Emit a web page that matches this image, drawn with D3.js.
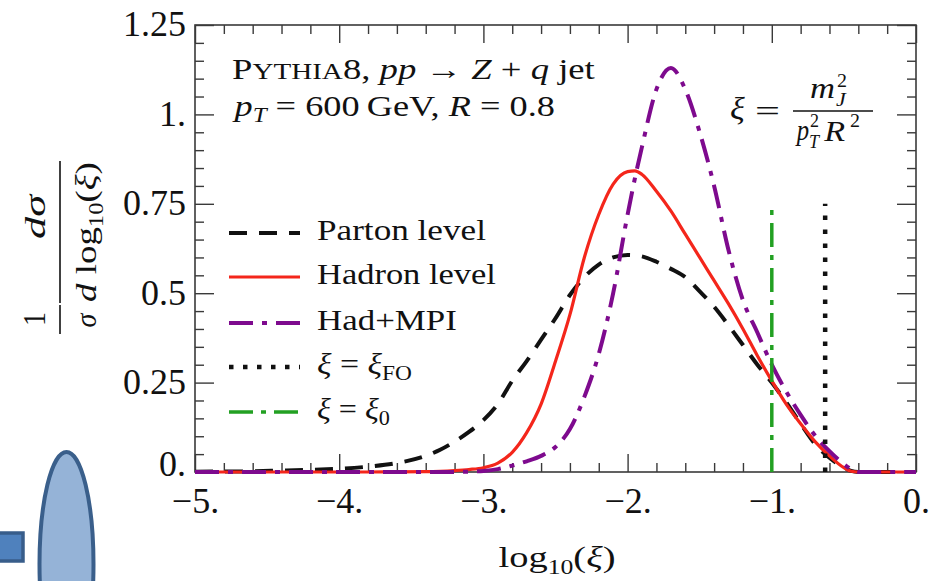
<!DOCTYPE html>
<html><head><meta charset="utf-8">
<script src="https://cdn.jsdelivr.net/npm/d3@7"></script>
<style>
html,body{margin:0;padding:0;background:#fff;}
svg{display:block;}
text{font-family:"Liberation Serif","Times New Roman",serif;fill:#111;}
</style></head><body>
<svg id="chart" width="940" height="581"></svg>
<script>
// ---------- data ----------
const logXi = [-5.0,-4.6,-4.4,-4.2,-4.0,-3.8,-3.6,-3.4,-3.3,-3.2,-3.1,-3.0,-2.9,-2.8,-2.7,-2.6,-2.5,-2.4,-2.3,-2.2,-2.1,-2.0,-1.95,-1.9,-1.8,-1.7,-1.6,-1.5,-1.4,-1.3,-1.2,-1.1,-1.0,-0.9,-0.8,-0.7,-0.6,-0.5,-0.45,-0.4,-0.2,0.0];
const partonLevel = [0.001,0.002,0.004,0.006,0.009,0.015,0.025,0.045,0.062,0.085,0.112,0.145,0.19,0.255,0.31,0.37,0.43,0.495,0.545,0.58,0.60,0.607,0.606,0.603,0.588,0.568,0.545,0.505,0.462,0.41,0.355,0.30,0.25,0.195,0.135,0.078,0.04,0.012,0.003,0,0,0];
const hadronLevel = [0,0,0,0,0,0,0.0005,0.001,0.002,0.004,0.007,0.012,0.025,0.055,0.11,0.19,0.31,0.44,0.60,0.72,0.805,0.84,0.842,0.832,0.785,0.73,0.665,0.60,0.535,0.47,0.40,0.325,0.255,0.19,0.135,0.085,0.045,0.012,0.002,0,0,0];
const hadMPI = [0,0,0,0,0,0,0,0,0,0,0.001,0.003,0.008,0.018,0.03,0.045,0.07,0.12,0.21,0.33,0.50,0.72,0.82,0.91,1.07,1.13,1.07,0.95,0.80,0.62,0.48,0.39,0.30,0.225,0.16,0.102,0.058,0.022,0.008,0,0,0];
const seriesNames = ["Parton level","Hadron level","Had+MPI"];
const refLogXi = [-0.63, -1.0];      // ξ_FO , ξ_0
const refTop = [0.75, 0.75];
const xMajorTicks = [-5,-4,-3,-2,-1,0];
const xTickLabels = ["\u22125.","\u22124.","\u22123.","\u22122.","\u22121.","0."];
const yMajorTicks = [0,0.25,0.5,0.75,1,1.25];
const yTickLabels = ["0.","0.25","0.5","0.75","1.","1.25"];

// ---------- layout ----------
const m = {left:195, right:916, top:25, bottom:472};
const x = d3.scaleLinear().domain([-5,0]).range([m.left,m.right]);
const y = d3.scaleLinear().domain([0,1.25]).range([m.bottom,m.top]);
const svg = d3.select('#chart');
const FONT = '"Liberation Serif","Times New Roman",serif';
const axisColor = '#3a3a3a';

// decorative shapes at bottom-left
svg.append('rect').attr('x',-10).attr('y',533).attr('width',33).attr('height',28)
  .attr('fill','#4f81bd').attr('stroke','#385d8a').attr('stroke-width',3.5);
svg.append('ellipse').attr('cx',66.5).attr('cy',564).attr('rx',27).attr('ry',112)
  .attr('fill','#95b3d7').attr('stroke','#3a5f8b').attr('stroke-width',4);

// helpers
function tsp(t, str, o={}) {
  const s = t.append('tspan').text(str);
  if (o.italic) s.attr('font-style','italic');
  if (o.size) s.attr('font-size',o.size);
  if (o.dy !== undefined) s.attr('dy',o.dy);
  return s;
}
function fitText(parent, px, py, targetW, size, build, anchor='start') {
  const g = parent.append('g');
  const t = g.append('text').attr('font-size', size).attr('font-family',FONT);
  build(t);
  const bb = t.node().getBBox();
  const sx = targetW / bb.width;
  const ox = anchor === 'middle' ? px - (bb.x + bb.width/2)*sx : px - bb.x*sx;
  g.attr('transform', `translate(${ox},${py}) scale(${sx},1)`);
  return g;
}

// frame
svg.append('rect').attr('x',m.left).attr('y',m.top).attr('width',m.right-m.left).attr('height',m.bottom-m.top)
  .attr('fill','none').attr('stroke',axisColor).attr('stroke-width',1.6);

function styleAxis(g) {
  g.select('.domain').remove();
  g.attr('font-family',FONT).attr('font-size',36).attr('color','#111');
  g.selectAll('line').attr('stroke',axisColor).attr('stroke-width',1.4);
}
const xMinor = d3.range(-5,0.0001,0.2).map(v=>+v.toFixed(2)).filter(v=>Math.abs(v-Math.round(v))>1e-6);
const yMinor = d3.range(0,1.2501,0.05).map(v=>+v.toFixed(2)).filter(v=>Math.abs(v*4-Math.round(v*4))>1e-6);

svg.append('g').attr('transform',`translate(0,${m.bottom})`)
  .call(d3.axisBottom(x).tickValues(xMajorTicks).tickSize(-18).tickPadding(15).tickFormat((d,i)=>xTickLabels[i])).call(styleAxis);
svg.append('g').attr('transform',`translate(0,${m.bottom})`)
  .call(d3.axisBottom(x).tickValues(xMinor).tickSize(-9).tickFormat('')).call(styleAxis);
svg.append('g').attr('transform',`translate(0,${m.top})`)
  .call(d3.axisTop(x).tickValues(xMajorTicks).tickSize(-18).tickFormat('')).call(styleAxis);
svg.append('g').attr('transform',`translate(0,${m.top})`)
  .call(d3.axisTop(x).tickValues(xMinor).tickSize(-9).tickFormat('')).call(styleAxis);
svg.append('g').attr('transform',`translate(${m.left},0)`)
  .call(d3.axisLeft(y).tickValues(yMajorTicks).tickSize(-19).tickPadding(9).tickFormat((d,i)=>yTickLabels[i])).call(styleAxis)
  .selectAll('text').attr('dy',d=>d===0?'0.1em':'0.3em');
svg.append('g').attr('transform',`translate(${m.left},0)`)
  .call(d3.axisLeft(y).tickValues(yMinor).tickSize(-9).tickFormat('')).call(styleAxis);
svg.append('g').attr('transform',`translate(${m.right},0)`)
  .call(d3.axisRight(y).tickValues(yMajorTicks).tickSize(-19).tickFormat('')).call(styleAxis);
svg.append('g').attr('transform',`translate(${m.right},0)`)
  .call(d3.axisRight(y).tickValues(yMinor).tickSize(-9).tickFormat('')).call(styleAxis);

// ---------- curves ----------
const styles = [
  {color:'#111111', width:4, dash:'18,12'},
  {color:'#f4261b', width:3.2, dash:null},
  {color:'#7e0a8e', width:4, dash:'24,9,5,9'}
];
const seriesValues = [partonLevel, hadronLevel, hadMPI];
const line = d3.line().x(d=>x(d[0])).y(d=>y(d[1])).curve(d3.curveMonotoneX);
seriesValues.forEach((vals,i)=>{
  const pts = logXi.map((lx,j)=>[lx, vals[j]]);
  svg.append('path').datum(pts).attr('d',line).attr('fill','none')
    .attr('stroke',styles[i].color).attr('stroke-width',styles[i].width)
    .attr('stroke-dasharray',styles[i].dash).attr('stroke-linejoin','round');
});
// reference lines
const refStyles = [
  {color:'#111111', width:4.5, dash:'4.5,9.5'},
  {color:'#22a022', width:3.5, dash:'24,8,5,8'}
];
refLogXi.forEach((lx,i)=>{
  svg.append('line').attr('x1',x(lx)).attr('x2',x(lx)).attr('y1',y(0)).attr('y2',y(refTop[i]))
    .attr('stroke',refStyles[i].color).attr('stroke-width',refStyles[i].width).attr('stroke-dasharray',refStyles[i].dash);
});

// ---------- legend ----------
const legendRows = [233,277,323,367,412];
const legendStyles = [styles[0],styles[1],styles[2],refStyles[0],refStyles[1]];
const legendWidths = [169,179,140,95,73];
const legendBuild = [
  t=>tsp(t,seriesNames[0]),
  t=>tsp(t,seriesNames[1]),
  t=>tsp(t,seriesNames[2]),
  t=>{tsp(t,'\u03be',{italic:true}); tsp(t,' = '); tsp(t,'\u03be',{italic:true}); tsp(t,'FO',{size:20,dy:6});},
  t=>{tsp(t,'\u03be',{italic:true}); tsp(t,' = '); tsp(t,'\u03be',{italic:true}); tsp(t,'0',{size:20,dy:6});}
];
legendRows.forEach((ry,i)=>{
  const s = legendStyles[i];
  svg.append('line').attr('x1',229).attr('x2',300).attr('y1',ry).attr('y2',ry)
    .attr('stroke',s.color).attr('stroke-width',s.width).attr('stroke-dasharray',s.dash);
  fitText(svg, 317, ry+7, legendWidths[i], 29, legendBuild[i]);
});

// ---------- annotations ----------
fitText(svg, 232, 79, 363, 29, t=>{
  tsp(t,'P'); tsp(t,'YTHIA',{size:23}); tsp(t,'8, ');
  tsp(t,'pp',{italic:true}); tsp(t,' \u2192 '); tsp(t,'Z',{italic:true});
  tsp(t,' + '); tsp(t,'q',{italic:true}); tsp(t,' jet');
});
fitText(svg, 232, 116, 323, 29, t=>{
  tsp(t,'p',{italic:true}); tsp(t,'T',{italic:true,size:20,dy:6});
  tsp(t,' = 600\u2009GeV, ',{dy:-6}); tsp(t,'R',{italic:true}); tsp(t,' = 0.8');
});

// formula ξ = m_J^2 / (p_T^2 R^2)
const piece = (px,w,py,size,str,it)=>fitText(svg,px,py,w,size,t=>tsp(t,str,{italic:it}));
piece(730,15,119,32,'\u03be',true);
piece(755,25,121,30,'=',false);
svg.append('line').attr('x1',793).attr('x2',873).attr('y1',111).attr('y2',111).attr('stroke','#111').attr('stroke-width',1.6);
piece(810,25,98,30,'m',true);
piece(837,10,87,18,'2',false);
piece(836,11,106,18,'J',true);
piece(795,14,140,30,'p',true);
piece(810,9,127,18,'2',false);
piece(809,12,148,18,'T',true);
piece(823,22,141,30,'R',true);
piece(850,10,127,18,'2',false);

// x-axis title
fitText(svg, 557, 567, 117, 30, t=>{
  tsp(t,'log'); tsp(t,'10',{size:20,dy:7}); tsp(t,'(',{dy:-7}); tsp(t,'\u03be',{italic:true}); tsp(t,')');
}, 'middle');

// y-axis title (rotated)
const yt = svg.append('g').attr('transform','translate(60,337) rotate(-90)');
fitText(yt, 18, -15, 14, 31, t=>tsp(t,'1'), 'middle');
yt.append('line').attr('x1',3).attr('x2',32).attr('y1',0).attr('y2',0).attr('stroke','#111').attr('stroke-width',1.6);
fitText(yt, 17, 36, 15, 30, t=>tsp(t,'\u03c3',{italic:true}), 'middle');
fitText(yt, 121, -15, 46, 30, t=>{tsp(t,'d',{italic:true}); tsp(t,'\u03c3',{italic:true});}, 'middle');
yt.append('line').attr('x1',34).attr('x2',176).attr('y1',0).attr('y2',0).attr('stroke','#111').attr('stroke-width',1.6);
fitText(yt, 35, 36, 140, 30, t=>{
  tsp(t,'d',{italic:true}); tsp(t,' log'); tsp(t,'10',{size:20,dy:7}); tsp(t,'(',{dy:-7}); tsp(t,'\u03be',{italic:true}); tsp(t,')');
});
</script>
</body></html>
